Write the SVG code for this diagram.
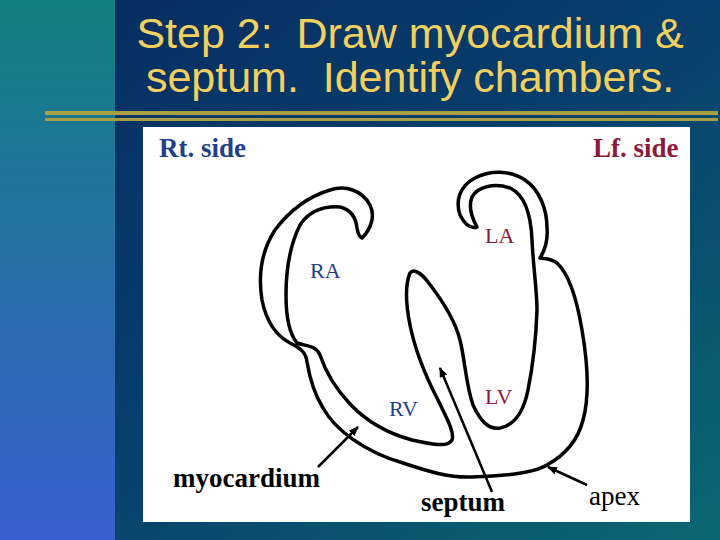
<svg xmlns="http://www.w3.org/2000/svg" width="720" height="540" viewBox="0 0 720 540">
<defs>
<linearGradient id="lg" x1="0" y1="0" x2="0" y2="1"><stop offset="0" stop-color="#138080"/><stop offset="1" stop-color="#3a5fd0"/></linearGradient>
<linearGradient id="rg" x1="0" y1="0" x2="1" y2="1"><stop offset="0" stop-color="#062c60"/><stop offset="0.5" stop-color="#083f6c"/><stop offset="1" stop-color="#0b6872"/></linearGradient>
<marker id="ah" markerWidth="10" markerHeight="8" refX="9" refY="4" orient="auto" markerUnits="userSpaceOnUse"><path d="M0,0 L10,4 L0,8 Z" fill="#000"/></marker>
<style>
.t{font-family:"Liberation Sans",Arial,sans-serif;font-size:43px;fill:#f2d060;text-anchor:middle;white-space:pre}
.s{font-family:"Liberation Serif","Times New Roman",serif;font-size:27px}
.h{font-weight:bold}
.c{font-size:22px}
.b{fill:#1f3f8c}.r{fill:#8b1a3a}
.ar{stroke:#000;stroke-width:2.5;fill:none;marker-end:url(#ah)}
</style>
</defs>
<rect width="720" height="540" fill="url(#rg)"/>
<rect width="115" height="540" fill="url(#lg)"/>
<text class="t" x="410" y="48" xml:space="preserve">Step 2:  Draw myocardium &amp;</text>
<text class="t" x="410" y="92" xml:space="preserve">septum.  Identify chambers.</text>
<rect x="45" y="111" width="673" height="4" fill="#a8a040"/>
<rect x="45" y="118" width="673" height="3" fill="#a8a040"/>
<rect x="143" y="127" width="547" height="395" fill="#fff"/>
<g id="heart">
<path d="M362,238 C372,228 375,215 370,205 C362,190 345,185 330,190 C310,196 290,210 275,230 C262,250 258,275 262,300 C266,320 275,335 290,343 C300,348 306,352 307,362 C310,380 315,395 323,408 C335,430 365,452 403,463 C430,472 450,478 472,477 C510,476 535,472 547,465 C565,455 578,440 583,420 C590,395 588,365 582,330 C577,300 570,275 557,263 C550,258 545,259 540,258 C545,250 548,240 547,228 C547,210 540,190 525,180 C510,170 490,170 475,178 C460,186 455,200 460,215 C465,225 470,229 477,227 C472,218 468,207 472,197 C478,186 495,183 510,188 C525,195 531,215 532,240 C533,265 537,290 537,310 C536,340 532,370 528,390 C524,410 515,425 500,428 C488,430 480,420 473,405 C466,385 465,360 460,340 C455,320 442,300 428,282 C422,274 414,268 410,273 C405,285 406,305 410,325 C415,350 425,375 438,400 C445,415 455,432 452,440 C448,448 430,444 412,440 C390,434 367,422 350,404 C335,388 325,370 320,355 C316,345 305,346 297,343 C288,332 286,315 286,295 C286,270 290,245 300,225 C310,210 325,206 340,207 C352,210 356,218 357,228 C358,234 359,237 362,238 Z" fill="none" stroke="#000" stroke-width="3.5" stroke-linejoin="round"/>
</g>
<g id="connectors">
<line class="ar" x1="318" y1="467" x2="358" y2="427"/>
<line class="ar" x1="492" y1="492" x2="440" y2="368"/>
<line class="ar" x1="587" y1="485" x2="548" y2="467"/>
</g>
<g id="labels">
<text class="s b h" x="159" y="157">Rt. side</text>
<text class="s r h" x="593" y="157">Lf. side</text>
<text class="s b c" x="310" y="278">RA</text>
<text class="s r c" x="485" y="243">LA</text>
<text class="s b c" x="389" y="416">RV</text>
<text class="s r c" x="485" y="404">LV</text>
<text class="s h" x="173" y="487">myocardium</text>
<text class="s h" x="421" y="511">septum</text>
<text class="s" x="589" y="505">apex</text>
</g>
</svg>
